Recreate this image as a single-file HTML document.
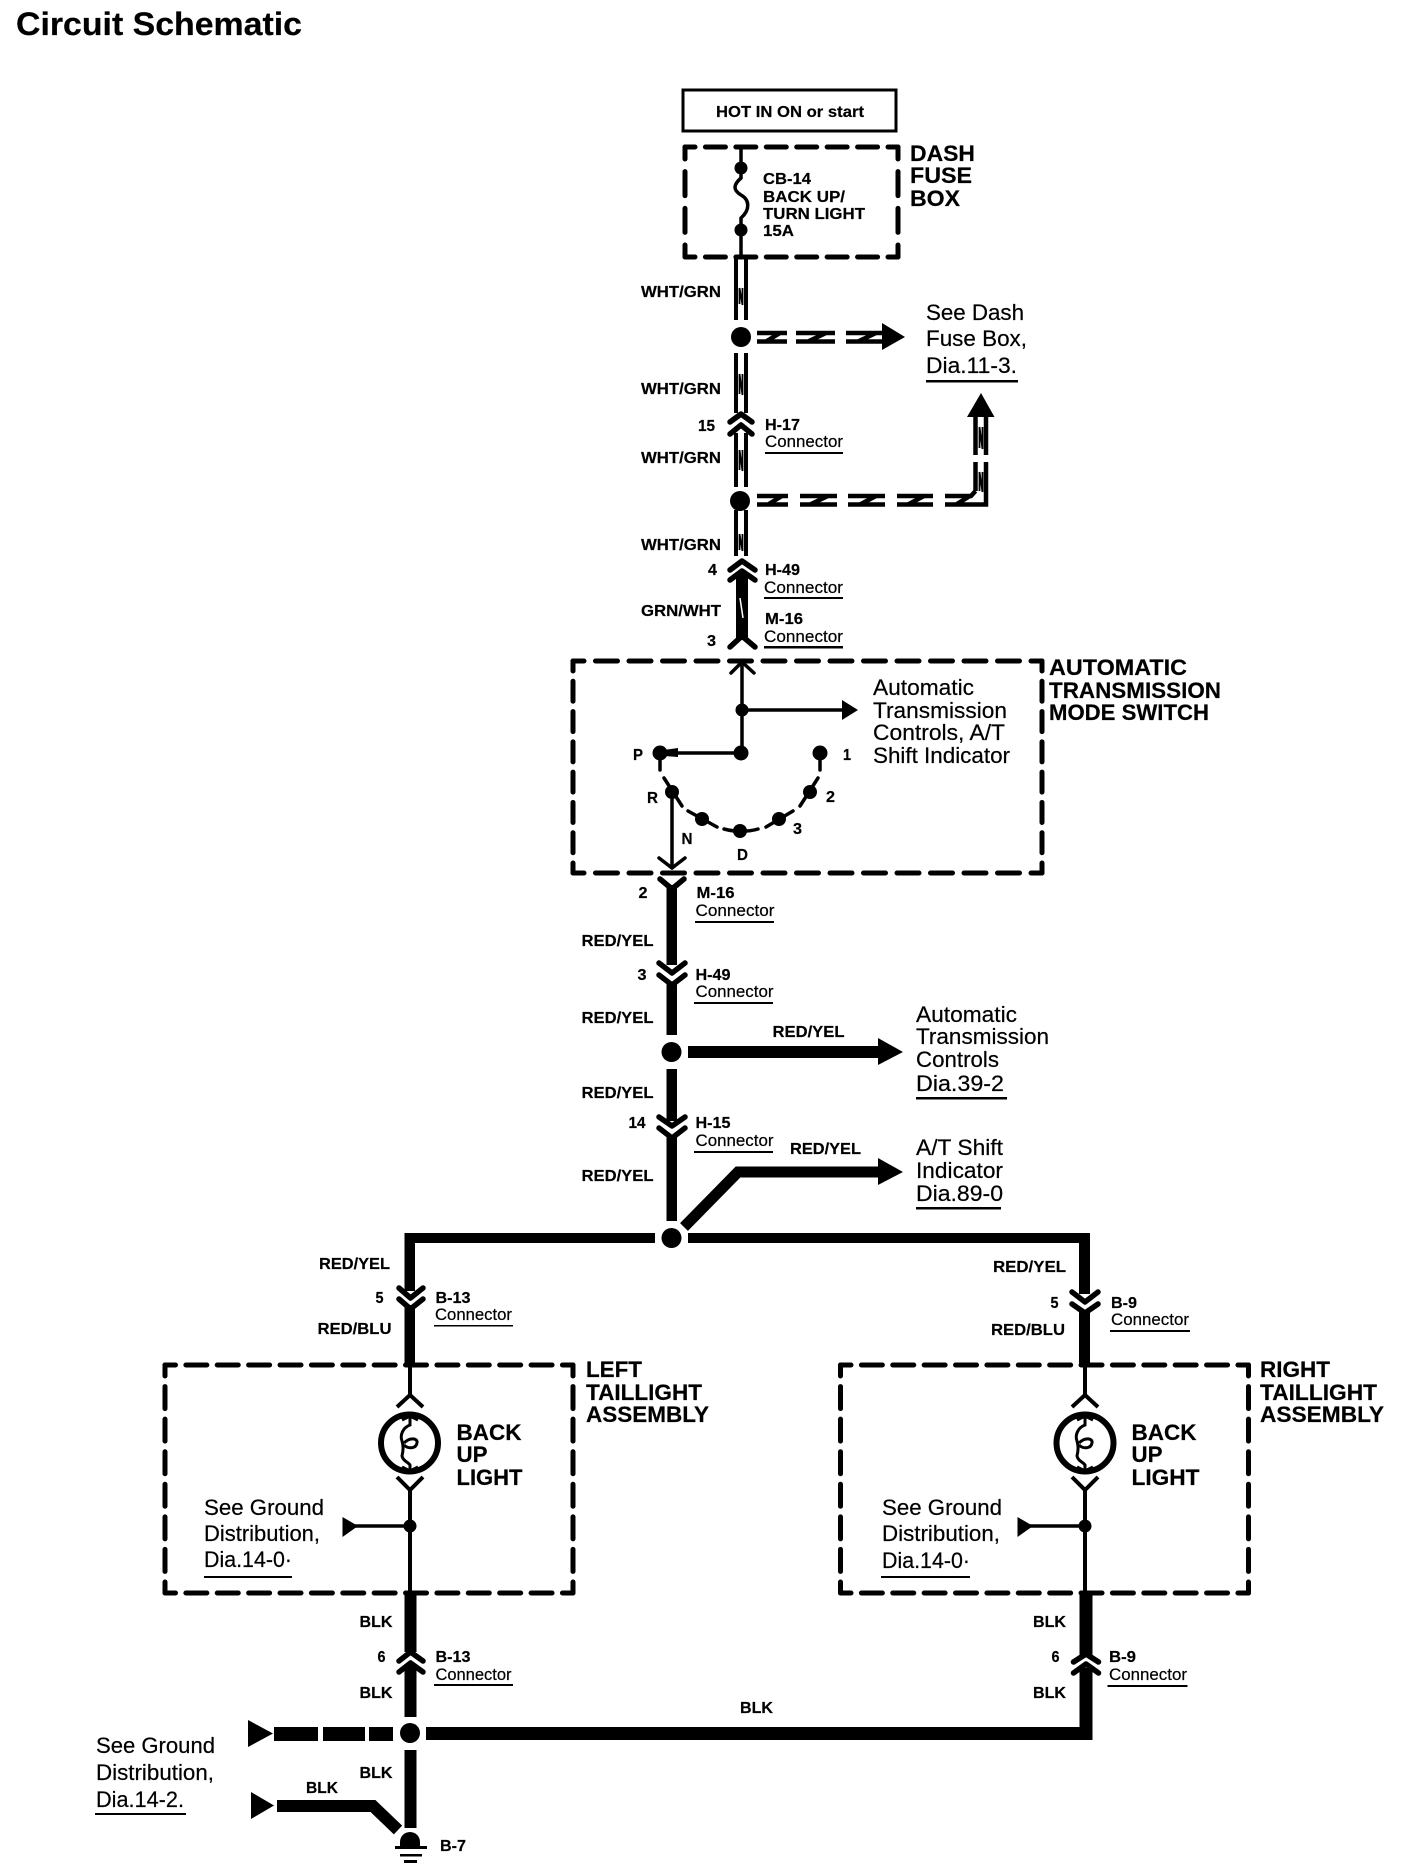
<!DOCTYPE html>
<html><head><meta charset="utf-8"><style>
html,body{margin:0;padding:0;background:#fff;width:1408px;height:1874px;overflow:hidden}
svg{display:block}
text{font-family:"Liberation Sans",Arial,sans-serif;fill:#000;stroke:#000;stroke-width:.2}
.b{font-size:15.5px;font-weight:700}
.c{font-size:16.5px}
.B{font-size:22px;font-weight:700}
.R{font-size:22px}
.k{fill:none;stroke:#000;stroke-linecap:round;stroke-linejoin:round}
.l{fill:none;stroke:#000}
</style></head><body>
<svg width="1408" height="1874" viewBox="0 0 1408 1874" xmlns="http://www.w3.org/2000/svg">
<rect width="1408" height="1874" fill="#fff"/>
<text x="16" y="35" font-size="32" font-weight="700" textLength="286" lengthAdjust="spacingAndGlyphs">Circuit Schematic</text>

<!-- HOT box -->
<rect x="683" y="90" width="213" height="41" fill="none" stroke="#000" stroke-width="3"/>
<text class="b" x="716" y="117" textLength="148" lengthAdjust="spacingAndGlyphs">HOT IN ON or start</text>

<!-- Dash fuse box -->
<g class="k" stroke-width="5">
<path d="M685 147H898M685 257H898" stroke-dasharray="20 10.43" stroke-dashoffset="10"/>
<path d="M685 147V257M898 147V257" stroke-dasharray="24 12.67" stroke-dashoffset="12"/>
</g>
<path class="l" stroke-width="3.5" d="M741 147V178C733 185 733 190 741 195C750 200 750 210 741 218V257"/>
<circle cx="741" cy="168" r="6.5"/><circle cx="741" cy="230" r="6.5"/>
<text class="b" x="763" y="184" textLength="48" lengthAdjust="spacingAndGlyphs">CB-14</text>
<text class="b" x="763" y="202" textLength="82" lengthAdjust="spacingAndGlyphs">BACK UP/</text>
<text class="b" x="763" y="219" textLength="102" lengthAdjust="spacingAndGlyphs">TURN LIGHT</text>
<text class="b" x="763" y="236" textLength="31" lengthAdjust="spacingAndGlyphs">15A</text>
<text class="B" x="910" y="161" textLength="65" lengthAdjust="spacingAndGlyphs">DASH</text>
<text class="B" x="910" y="183" textLength="62" lengthAdjust="spacingAndGlyphs">FUSE</text>
<text class="B" x="910" y="206" textLength="50" lengthAdjust="spacingAndGlyphs">BOX</text>

<!-- WHT/GRN double wire -->
<g class="l" stroke-width="4">
<path d="M736 257V320M746 257V320"/>
<path d="M736 353V413M746 353V413"/>
<path d="M736 433V487M746 433V487"/>
<path d="M736 510V556M746 510V556"/>
</g>
<g class="l" stroke-width="1.8">
<path d="M739.5 304V288L742.5 305V288"/>
<path d="M739.5 394V374L742.5 395V374"/>
<path d="M739.5 470V450L742.5 471V450"/>
<path d="M739.5 550V534L742.5 551V534"/>
</g>
<circle cx="741" cy="337" r="10"/>
<circle cx="740" cy="501" r="10"/>
<text class="b" x="641" y="297" textLength="80" lengthAdjust="spacingAndGlyphs">WHT/GRN</text>
<text class="b" x="641" y="394" textLength="80" lengthAdjust="spacingAndGlyphs">WHT/GRN</text>
<text class="b" x="641" y="463" textLength="80" lengthAdjust="spacingAndGlyphs">WHT/GRN</text>
<text class="b" x="641" y="550" textLength="80" lengthAdjust="spacingAndGlyphs">WHT/GRN</text>
<text class="b" x="641" y="616" textLength="80" lengthAdjust="spacingAndGlyphs">GRN/WHT</text>

<!-- first side arrow -->
<g class="l" stroke-width="4.5">
<path d="M757 333H787M757 341.5H787M766 341.5L780 333"/>
<path d="M796 333H835M796 341.5H835M808 341.5L826 333"/>
<path d="M846 333H884M846 341.5H884M858 341.5L876 333"/>
</g>
<path d="M882 323L905 337L882 350Z"/>
<text class="R" x="926" y="320" textLength="98" lengthAdjust="spacingAndGlyphs">See Dash</text>
<text class="R" x="926" y="346" textLength="101" lengthAdjust="spacingAndGlyphs">Fuse Box,</text>
<text class="R" x="926" y="373" textLength="91" lengthAdjust="spacingAndGlyphs">Dia.11-3.</text>
<rect x="926" y="380" width="92" height="2.5"/>

<!-- second side arrow -->
<g class="l" stroke-width="4.5">
<path d="M757 496H788M757 504.5H788M768 504.5L782 496"/>
<path d="M800 496H837M800 504.5H837M810 504.5L828 496"/>
<path d="M848 496H885M848 504.5H885M860 504.5L876 496"/>
<path d="M897 496H933M897 504.5H933M908 504.5L924 496"/>
<path d="M945 496H971L975.5 491M945 504.5H986V462M956 504.5L970 496M975.5 491V462"/>
<path d="M975.5 455V417M986 455V417"/>
</g>
<g class="l" stroke-width="1.8"><path d="M979.5 448V427L982.5 449V427"/><path d="M979.5 491V472L982.5 492V472"/></g>
<path d="M981 393L994.5 417H967Z"/>

<!-- H-17 connector -->
<g class="k" stroke-width="5.5">
<path d="M730 422L741 414L752 422"/>
<path d="M730 434L741 425L752 434"/>
</g>
<text class="b" x="698" y="431" textLength="17" lengthAdjust="spacingAndGlyphs">15</text>
<text class="b" x="765" y="430" textLength="35" lengthAdjust="spacingAndGlyphs">H-17</text>
<text class="c" x="765" y="447" textLength="78" lengthAdjust="spacingAndGlyphs">Connector</text>
<rect x="765" y="452" width="78" height="2"/>

<!-- H-49 / M-16 upper -->
<g class="k" stroke-width="5.5">
<path d="M730 570L742 561L755 570"/>
<path d="M730 580L742 571L755 580"/>
<path d="M730 647L742 636L755 647"/>
</g>
<rect x="736" y="574" width="12" height="66"/>
<path d="M740 598L743 618" stroke="#fff" stroke-width="1.5"/>
<text class="b" x="708" y="575" textLength="9" lengthAdjust="spacingAndGlyphs">4</text>
<text class="b" x="765" y="575" textLength="35" lengthAdjust="spacingAndGlyphs">H-49</text>
<text class="c" x="764" y="593" textLength="79" lengthAdjust="spacingAndGlyphs">Connector</text>
<rect x="764" y="597" width="79" height="2"/>
<text class="b" x="765" y="624" textLength="38" lengthAdjust="spacingAndGlyphs">M-16</text>
<text class="c" x="764" y="642" textLength="79" lengthAdjust="spacingAndGlyphs">Connector</text>
<rect x="764" y="646" width="79" height="2.5"/>
<text class="b" x="707" y="646" textLength="9" lengthAdjust="spacingAndGlyphs">3</text>

<!-- Mode switch box -->
<g class="k" stroke-width="5">
<path d="M573 661H1042M573 873H1042" stroke-dasharray="22 11.5" stroke-dashoffset="11"/>
<path d="M573 661V873M1042 661V873" stroke-dasharray="20 10.29" stroke-dashoffset="10"/>
</g>
<text class="B" x="1049" y="675" textLength="138" lengthAdjust="spacingAndGlyphs">AUTOMATIC</text>
<text class="B" x="1049" y="698" textLength="172" lengthAdjust="spacingAndGlyphs">TRANSMISSION</text>
<text class="B" x="1049" y="720" textLength="160" lengthAdjust="spacingAndGlyphs">MODE SWITCH</text>
<g class="k" stroke-width="3.5">
<path d="M731 673L742 662L754 673"/>
<path d="M742 662V753"/>
<path d="M742 710H845"/>
<path d="M741 753H660"/>
<path d="M660 753V770"/>
<path d="M820 753V770"/>
<path d="M664 778L682 806"/>
<path d="M688 811L717 827"/>
<path d="M724 829C735 832 748 832 758 829"/>
<path d="M766 827L793 811"/>
<path d="M800 806L818 778"/>
<path d="M672 792V868"/>
<path d="M659 858L672 868L685 858"/>
</g>
<path d="M842 700L858 710L842 720Z"/>
<circle cx="742" cy="710" r="6.5"/>
<circle cx="741" cy="753" r="7.5"/>
<circle cx="660" cy="753" r="7.5"/>
<path d="M664 750L678 748V757L664 756Z"/>
<circle cx="820" cy="753" r="7.5"/>
<circle cx="810" cy="792" r="7"/>
<circle cx="779" cy="819" r="7"/>
<circle cx="740" cy="831" r="7"/>
<circle cx="702" cy="819" r="7"/>
<circle cx="672" cy="792" r="7"/>
<text class="b" x="633" y="760" textLength="10" lengthAdjust="spacingAndGlyphs">P</text>
<text class="b" x="843" y="760" textLength="8" lengthAdjust="spacingAndGlyphs">1</text>
<text class="b" x="647" y="803" textLength="11" lengthAdjust="spacingAndGlyphs">R</text>
<text class="b" x="826" y="802" textLength="9" lengthAdjust="spacingAndGlyphs">2</text>
<text class="b" x="793" y="834" textLength="9" lengthAdjust="spacingAndGlyphs">3</text>
<text class="b" x="681.5" y="844" textLength="11" lengthAdjust="spacingAndGlyphs">N</text>
<text class="b" x="737" y="860" textLength="11" lengthAdjust="spacingAndGlyphs">D</text>
<text class="R" x="873" y="695" textLength="101" lengthAdjust="spacingAndGlyphs">Automatic</text>
<text class="R" x="873" y="718" textLength="134" lengthAdjust="spacingAndGlyphs">Transmission</text>
<text class="R" x="873" y="740" textLength="132" lengthAdjust="spacingAndGlyphs">Controls, A/T</text>
<text class="R" x="873" y="763" textLength="137" lengthAdjust="spacingAndGlyphs">Shift Indicator</text>

<!-- central RED/YEL wire -->
<g class="k" stroke-width="5.5">
<path d="M660 879L672 889L684 879"/>
<path d="M659 963L672 973L685 963"/>
<path d="M659 975L672 985L685 975"/>
<path d="M659 1117L672 1126L685 1117"/>
<path d="M659 1128L672 1138L685 1128"/>
</g>
<g fill="#000">
<rect x="666.5" y="885" width="10.5" height="80"/>
<rect x="666.5" y="983" width="10.5" height="52"/>
<rect x="666.5" y="1069" width="10.5" height="52"/>
<rect x="666.5" y="1136" width="10.5" height="85"/>
</g>
<circle cx="671.5" cy="1052" r="10"/>
<circle cx="671.5" cy="1238" r="10"/>
<text class="b" x="638.5" y="898" textLength="9" lengthAdjust="spacingAndGlyphs">2</text>
<text class="b" x="696.5" y="898" textLength="38" lengthAdjust="spacingAndGlyphs">M-16</text>
<text class="c" x="695.5" y="916" textLength="79" lengthAdjust="spacingAndGlyphs">Connector</text>
<rect x="695" y="921" width="79" height="2"/>
<text class="b" x="581.5" y="946" textLength="72" lengthAdjust="spacingAndGlyphs">RED/YEL</text>
<text class="b" x="637.5" y="980" textLength="9" lengthAdjust="spacingAndGlyphs">3</text>
<text class="b" x="695.5" y="980" textLength="35" lengthAdjust="spacingAndGlyphs">H-49</text>
<text class="c" x="695.5" y="997" textLength="78" lengthAdjust="spacingAndGlyphs">Connector</text>
<rect x="694" y="1002" width="79" height="2"/>
<text class="b" x="581.5" y="1023" textLength="72" lengthAdjust="spacingAndGlyphs">RED/YEL</text>
<text class="b" x="581.5" y="1098" textLength="72" lengthAdjust="spacingAndGlyphs">RED/YEL</text>
<text class="b" x="628.5" y="1128" textLength="17" lengthAdjust="spacingAndGlyphs">14</text>
<text class="b" x="695.5" y="1128" textLength="35" lengthAdjust="spacingAndGlyphs">H-15</text>
<text class="c" x="695.5" y="1146" textLength="78" lengthAdjust="spacingAndGlyphs">Connector</text>
<rect x="694" y="1151" width="79" height="2"/>
<text class="b" x="581.5" y="1181" textLength="72" lengthAdjust="spacingAndGlyphs">RED/YEL</text>

<!-- RED/YEL branch arrows -->
<rect x="688" y="1046" width="191" height="12"/>
<path d="M878 1038L903 1052L878 1065Z"/>
<text class="b" x="772.5" y="1037" textLength="72" lengthAdjust="spacingAndGlyphs">RED/YEL</text>
<text class="R" x="916" y="1022" textLength="101" lengthAdjust="spacingAndGlyphs">Automatic</text>
<text class="R" x="916" y="1044" textLength="133" lengthAdjust="spacingAndGlyphs">Transmission</text>
<text class="R" x="916" y="1067" textLength="83" lengthAdjust="spacingAndGlyphs">Controls</text>
<text class="R" x="916" y="1091" textLength="88" lengthAdjust="spacingAndGlyphs">Dia.39-2</text>
<rect x="916" y="1097" width="91" height="2.5"/>
<path class="l" stroke-width="11" d="M684 1227L738 1172H879" stroke-linejoin="miter"/>
<path d="M878 1158L903 1172L878 1185Z"/>
<text class="b" x="790" y="1154" textLength="71" lengthAdjust="spacingAndGlyphs">RED/YEL</text>
<text class="R" x="916" y="1155" textLength="87" lengthAdjust="spacingAndGlyphs">A/T Shift</text>
<text class="R" x="916" y="1178" textLength="87" lengthAdjust="spacingAndGlyphs">Indicator</text>
<text class="R" x="916" y="1201" textLength="87" lengthAdjust="spacingAndGlyphs">Dia.89-0</text>
<rect x="916" y="1207" width="85" height="2.5"/>

<!-- main horizontal -->
<rect x="405" y="1233" width="250" height="10"/>
<rect x="688" y="1233" width="402" height="10"/>

<!-- left upper -->
<rect x="404.5" y="1233" width="10.5" height="58"/>
<rect x="404.5" y="1305" width="10.5" height="60"/>
<g class="k" stroke-width="5.5">
<path d="M399 1288L410.5 1298L423 1288"/>
<path d="M399 1299L410.5 1309L423 1299"/>
</g>
<text class="b" x="319" y="1269" textLength="71" lengthAdjust="spacingAndGlyphs">RED/YEL</text>
<text class="b" x="375.5" y="1303" textLength="8" lengthAdjust="spacingAndGlyphs">5</text>
<text class="b" x="435.5" y="1303" textLength="35" lengthAdjust="spacingAndGlyphs">B-13</text>
<text class="c" x="435" y="1320" textLength="77" lengthAdjust="spacingAndGlyphs">Connector</text>
<rect x="434" y="1325" width="79" height="1.5"/>
<text class="b" x="317.5" y="1334" textLength="74" lengthAdjust="spacingAndGlyphs">RED/BLU</text>

<!-- right upper -->
<rect x="1079" y="1233" width="11" height="61"/>
<rect x="1079" y="1310" width="11" height="55"/>
<g class="k" stroke-width="5.5">
<path d="M1072 1292L1085 1302L1098 1292"/>
<path d="M1072 1304L1085 1313L1098 1304"/>
</g>
<text class="b" x="993" y="1272" textLength="73" lengthAdjust="spacingAndGlyphs">RED/YEL</text>
<text class="b" x="1050.5" y="1308" textLength="8" lengthAdjust="spacingAndGlyphs">5</text>
<text class="b" x="1111" y="1308" textLength="26" lengthAdjust="spacingAndGlyphs">B-9</text>
<text class="c" x="1111" y="1325" textLength="78" lengthAdjust="spacingAndGlyphs">Connector</text>
<rect x="1110" y="1330" width="80" height="2"/>
<text class="b" x="991" y="1335" textLength="74" lengthAdjust="spacingAndGlyphs">RED/BLU</text>

<!-- left taillight -->
<g class="k" stroke-width="5">
<path d="M165 1365H573M165 1593H573" stroke-dasharray="21 10.38" stroke-dashoffset="10.5"/>
<path d="M165 1365V1593M573 1365V1593" stroke-dasharray="22 10.57" stroke-dashoffset="11"/>
</g>
<path class="l" stroke-width="4" d="M410 1365V1395M397 1407L410 1395L423 1407"/>
<circle cx="409.5" cy="1443" r="28.5" fill="none" stroke="#000" stroke-width="6"/>
<path class="l" stroke-width="3" d="M410 1416V1425C402 1428 400 1436 402 1441C404 1447 403 1452 402 1456C403 1461 408 1462 410 1465V1471M402 1420L410 1416L418 1420M402 1467L410 1471L418 1467M404 1443C410 1437 418 1438 417 1443C416 1449 408 1449 404 1445"/>
<path class="l" stroke-width="4" d="M397 1477L410 1490L423 1477M410 1490V1593"/>
<circle cx="410" cy="1526" r="6.5"/>
<path class="l" stroke-width="3.5" d="M355 1526H410"/>
<path d="M342.5 1517L358 1526L342.5 1537Z"/>
<text class="B" x="456.5" y="1440" textLength="65" lengthAdjust="spacingAndGlyphs">BACK</text>
<text class="B" x="456.5" y="1462" textLength="31" lengthAdjust="spacingAndGlyphs">UP</text>
<text class="B" x="456.5" y="1485" textLength="66" lengthAdjust="spacingAndGlyphs">LIGHT</text>
<text class="B" x="586" y="1377" textLength="56" lengthAdjust="spacingAndGlyphs">LEFT</text>
<text class="B" x="586" y="1400" textLength="116" lengthAdjust="spacingAndGlyphs">TAILLIGHT</text>
<text class="B" x="586" y="1422" textLength="123" lengthAdjust="spacingAndGlyphs">ASSEMBLY</text>
<text class="R" x="204" y="1515" textLength="120" lengthAdjust="spacingAndGlyphs">See Ground</text>
<text class="R" x="204" y="1541" textLength="116" lengthAdjust="spacingAndGlyphs">Distribution,</text>
<text class="R" x="204" y="1567" textLength="88" lengthAdjust="spacingAndGlyphs">Dia.14-0·</text>
<rect x="204" y="1576" width="88" height="2"/>

<!-- right taillight -->
<g class="k" stroke-width="5">
<path d="M840.5 1365H1248.5M840.5 1593H1248.5" stroke-dasharray="21 10.38" stroke-dashoffset="10.5"/>
<path d="M840.5 1365V1593M1248.5 1365V1593" stroke-dasharray="22 10.57" stroke-dashoffset="11"/>
</g>
<g transform="translate(675 0)">
<path class="l" stroke-width="4" d="M410 1365V1395M397 1407L410 1395L423 1407"/>
<circle cx="410" cy="1443" r="28.5" fill="none" stroke="#000" stroke-width="6"/>
<path class="l" stroke-width="3" d="M410 1416V1425C402 1428 400 1436 402 1441C404 1447 403 1452 402 1456C403 1461 408 1462 410 1465V1471M402 1420L410 1416L418 1420M402 1467L410 1471L418 1467M404 1443C410 1437 418 1438 417 1443C416 1449 408 1449 404 1445"/>
<path class="l" stroke-width="4" d="M397 1477L410 1490L423 1477M410 1490V1593"/>
<circle cx="410" cy="1526" r="6.5"/>
<path class="l" stroke-width="3.5" d="M355 1526H410"/>
<path d="M342.5 1517L358 1526L342.5 1537Z"/>
</g>
<text class="B" x="1131.5" y="1440" textLength="65" lengthAdjust="spacingAndGlyphs">BACK</text>
<text class="B" x="1131.5" y="1462" textLength="31" lengthAdjust="spacingAndGlyphs">UP</text>
<text class="B" x="1131.5" y="1485" textLength="68" lengthAdjust="spacingAndGlyphs">LIGHT</text>
<text class="B" x="1260" y="1377" textLength="70" lengthAdjust="spacingAndGlyphs">RIGHT</text>
<text class="B" x="1260" y="1400" textLength="117" lengthAdjust="spacingAndGlyphs">TAILLIGHT</text>
<text class="B" x="1260" y="1422" textLength="124" lengthAdjust="spacingAndGlyphs">ASSEMBLY</text>
<text class="R" x="882" y="1515" textLength="120" lengthAdjust="spacingAndGlyphs">See Ground</text>
<text class="R" x="882" y="1541" textLength="118" lengthAdjust="spacingAndGlyphs">Distribution,</text>
<text class="R" x="882" y="1568" textLength="88" lengthAdjust="spacingAndGlyphs">Dia.14-0·</text>
<rect x="881" y="1576" width="89" height="2"/>

<!-- left lower -->
<rect x="404.5" y="1593" width="12" height="59"/>
<rect x="404.5" y="1664" width="12" height="53"/>
<rect x="404.5" y="1750" width="12" height="78"/>
<g class="k" stroke-width="5.5">
<path d="M399 1661L410.5 1652L423 1661"/>
<path d="M399 1672L410.5 1663L423 1672"/>
</g>
<circle cx="410" cy="1733" r="10"/>
<text class="b" x="359.5" y="1627" textLength="33" lengthAdjust="spacingAndGlyphs">BLK</text>
<text class="b" x="377.5" y="1662" textLength="8" lengthAdjust="spacingAndGlyphs">6</text>
<text class="b" x="435.5" y="1662" textLength="35" lengthAdjust="spacingAndGlyphs">B-13</text>
<text class="c" x="435.5" y="1680" textLength="76" lengthAdjust="spacingAndGlyphs">Connector</text>
<rect x="434" y="1684" width="79" height="2"/>
<text class="b" x="359.5" y="1698" textLength="33" lengthAdjust="spacingAndGlyphs">BLK</text>
<text class="b" x="359.5" y="1778" textLength="33" lengthAdjust="spacingAndGlyphs">BLK</text>

<!-- right lower -->
<rect x="1079.5" y="1593" width="13" height="62"/>
<rect x="1079.5" y="1668" width="13" height="72"/>
<g class="k" stroke-width="5.5">
<path d="M1073.5 1662L1086 1654L1098.5 1662"/>
<path d="M1073.5 1673L1086 1664L1098.5 1673"/>
</g>
<text class="b" x="1033" y="1627" textLength="33" lengthAdjust="spacingAndGlyphs">BLK</text>
<text class="b" x="1051.5" y="1662" textLength="8" lengthAdjust="spacingAndGlyphs">6</text>
<text class="b" x="1109" y="1662" textLength="27" lengthAdjust="spacingAndGlyphs">B-9</text>
<text class="c" x="1109" y="1680" textLength="78" lengthAdjust="spacingAndGlyphs">Connector</text>
<rect x="1107.5" y="1685" width="80" height="2"/>
<text class="b" x="1033" y="1698" textLength="33" lengthAdjust="spacingAndGlyphs">BLK</text>

<!-- BLK horizontal -->
<rect x="426" y="1727" width="666.5" height="13"/>
<text class="b" x="740" y="1713" textLength="33" lengthAdjust="spacingAndGlyphs">BLK</text>

<!-- ground feeds -->
<path d="M248 1720L273 1733.5L248 1747Z"/>
<rect x="274" y="1727" width="44" height="14"/>
<rect x="323" y="1727" width="42" height="14"/>
<rect x="369" y="1727" width="24" height="14"/>
<path d="M251 1792L274 1805.5L251 1819Z"/>
<path class="l" stroke-width="12" d="M277 1806H373L398 1830" stroke-linejoin="miter"/>
<text class="b" x="306" y="1793" textLength="32" lengthAdjust="spacingAndGlyphs">BLK</text>
<text class="R" x="96" y="1753" textLength="119" lengthAdjust="spacingAndGlyphs">See Ground</text>
<text class="R" x="96" y="1780" textLength="118" lengthAdjust="spacingAndGlyphs">Distribution,</text>
<text class="R" x="96" y="1807" textLength="88" lengthAdjust="spacingAndGlyphs">Dia.14-2.</text>
<rect x="95" y="1813" width="91" height="2"/>

<!-- ground symbol -->
<path d="M400 1848V1842A10 10 0 0 1 420 1842V1848Z"/>
<rect x="395" y="1846" width="32" height="3"/>
<rect x="400" y="1854" width="22" height="2.5"/>
<rect x="404" y="1860" width="13" height="3"/>
<text class="b" x="440" y="1851" textLength="26" lengthAdjust="spacingAndGlyphs">B-7</text>
</svg>
</body></html>
